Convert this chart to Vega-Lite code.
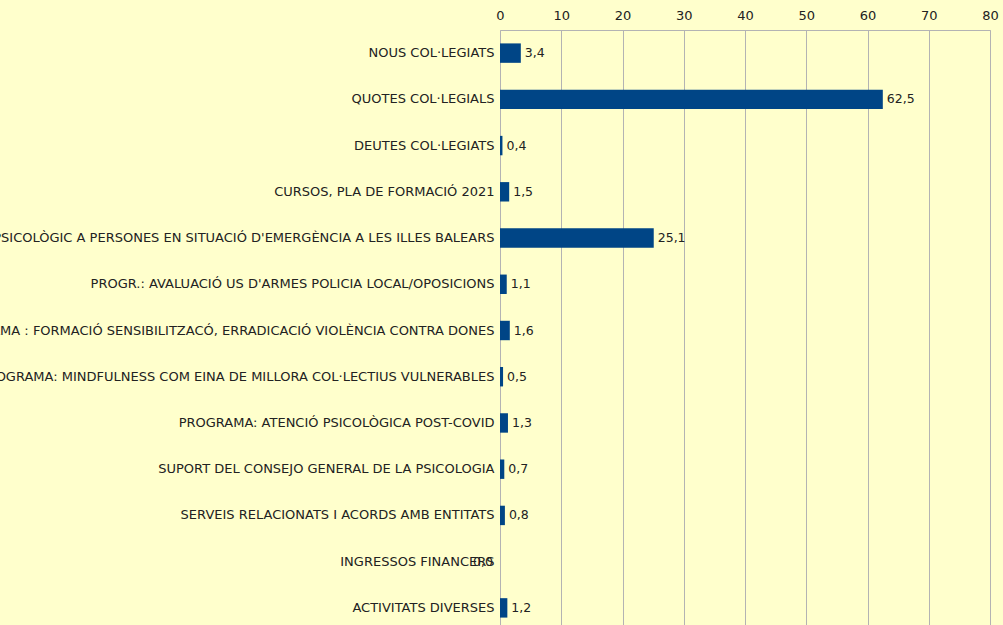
{
  "$schema": "https://vega.github.io/schema/vega-lite/v6.json",
  "autosize": "none",
  "width": 490,
  "height": 601,
  "padding": {"left": 500, "top": 30, "right": 13, "bottom": 0},
  "background": "#FFFFCC",
  "config": {
    "view": {"fill": "#FFFFCC", "stroke": "#B3B3B3", "strokeWidth": 1},
    "locale": {"number": {"decimal": ",", "thousands": ".", "grouping": [3], "currency": ["", " €"]}},
    "font": "DejaVu Sans"
  },
  "data": {
    "values": [
      {"concepte": "NOUS COL·LEGIATS", "valor": 3.4},
      {"concepte": "QUOTES COL·LEGIALS", "valor": 62.5},
      {"concepte": "DEUTES COL·LEGIATS", "valor": 0.4},
      {"concepte": "CURSOS, PLA DE FORMACIÓ 2021", "valor": 1.5},
      {"concepte": "PROGRAMA: SUPORT PSICOLÒGIC A PERSONES EN SITUACIÓ D'EMERGÈNCIA A LES ILLES BALEARS", "valor": 25.1},
      {"concepte": "PROGR.: AVALUACIÓ US D'ARMES POLICIA LOCAL/OPOSICIONS", "valor": 1.1},
      {"concepte": "PROGRAMA :  FORMACIÓ SENSIBILITZACÓ, ERRADICACIÓ VIOLÈNCIA CONTRA DONES", "valor": 1.6},
      {"concepte": "PROGRAMA: MINDFULNESS COM EINA DE MILLORA COL·LECTIUS VULNERABLES", "valor": 0.5},
      {"concepte": "PROGRAMA: ATENCIÓ PSICOLÒGICA POST-COVID", "valor": 1.3},
      {"concepte": "SUPORT DEL CONSEJO GENERAL DE LA PSICOLOGIA", "valor": 0.7},
      {"concepte": "SERVEIS RELACIONATS I ACORDS AMB ENTITATS", "valor": 0.8},
      {"concepte": "INGRESSOS FINANCERS", "valor": 0.0},
      {"concepte": "ACTIVITATS DIVERSES", "valor": 1.2}
    ]
  },
  "encoding": {
    "y": {
      "field": "concepte", "type": "nominal", "sort": null,
      "scale": {"paddingInner": 0.58, "paddingOuter": 0.29},
      "axis": {
        "title": null, "ticks": false, "domain": false, "labelLimit": 0,
        "labelFontSize": 13, "labelColor": "#222222", "labelPadding": 6, "grid": false
      }
    },
    "x": {
      "field": "valor", "type": "quantitative",
      "scale": {"domain": [0, 80], "nice": false},
      "axis": {
        "orient": "top", "title": null, "values": [0, 10, 20, 30, 40, 50, 60, 70, 80],
        "ticks": false, "domain": false, "grid": true, "gridColor": "#B3B3B3", "gridOpacity": 1,
        "labelFontSize": 13, "labelColor": "#222222", "labelPadding": 8, "labelFlush": false
      }
    }
  },
  "layer": [
    {"mark": {"type": "bar", "color": "#004586"}},
    {
      "transform": [{"filter": "datum.valor > 0"}],
      "mark": {"type": "text", "align": "left", "dx": 4, "fontSize": 12.5, "color": "#222222"},
      "encoding": {"text": {"field": "valor", "type": "quantitative", "format": ".1f"}}
    },
    {
      "transform": [{"filter": "datum.valor == 0"}],
      "mark": {"type": "text", "align": "right", "dx": -7, "fontSize": 12.5, "color": "#222222"},
      "encoding": {"text": {"field": "valor", "type": "quantitative", "format": ".1f"}}
    }
  ]
}
